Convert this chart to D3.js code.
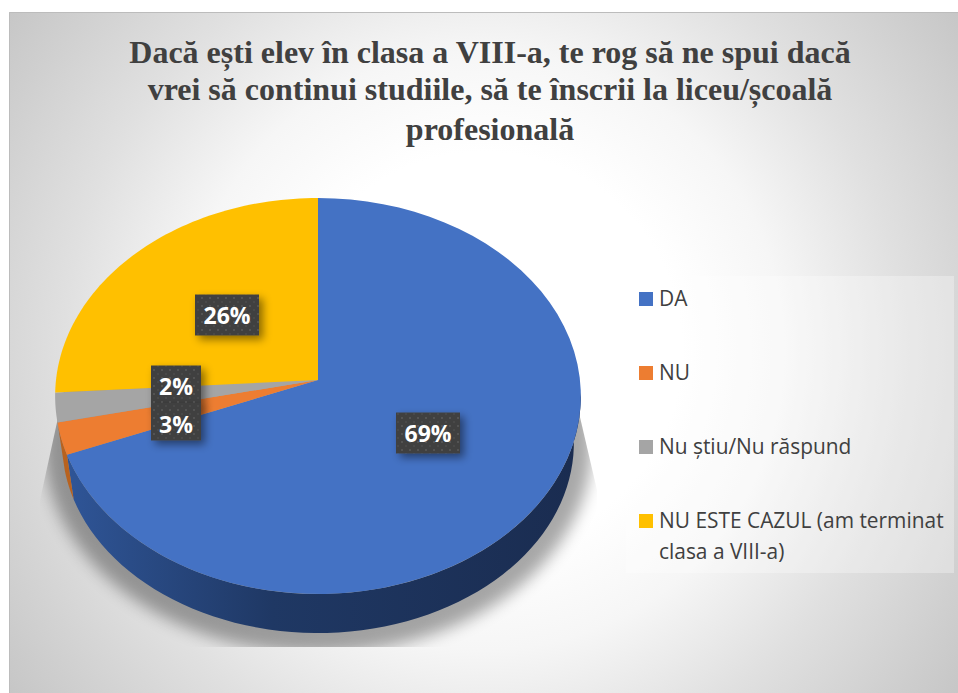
<!DOCTYPE html>
<html><head><meta charset="utf-8">
<script src="https://cdn.jsdelivr.net/npm/d3@7"></script>
<style>html,body{margin:0;padding:0;background:#fff}svg{display:block}</style>
</head><body><div id="c"></div>
<script>
const categories = ["DA","NU","Nu știu/Nu răspund","NU ESTE CAZUL (am terminat|clasa a VIII-a)"];
const values = [69, 2.6, 2.4, 26];
const colors = ["#4472C4","#ED7D31","#A5A5A5","#FFC000"];
const titleLines = ["Dacă ești elev în clasa a VIII-a, te rog să ne spui dacă","vrei să continui studiile, să te înscrii la liceu/școală","profesională"];

const svg = d3.select("#c").append("svg").attr("width",958).attr("height",693);
const defs = svg.append("defs");
const bg = defs.append("radialGradient").attr("id","bg").attr("gradientUnits","userSpaceOnUse")
  .attr("cx",484).attr("cy",350).attr("r",600);
[[0,"#ffffff"],[.33,"#ffffff"],[.5,"#f6f6f6"],[.7,"#e0e0e0"],[.87,"#d0d0d0"],[1,"#c4c4c4"]].forEach(s=>bg.append("stop").attr("offset",s[0]).attr("stop-color",s[1]));
const sideG = defs.append("linearGradient").attr("id","side").attr("gradientUnits","userSpaceOnUse").attr("x1",67).attr("x2",581).attr("y1",0).attr("y2",0);
[[0,"#2f5597"],[.4,"#1f3864"],[1,"#1a2c50"]].forEach(s=>sideG.append("stop").attr("offset",s[0]).attr("stop-color",s[1]));
defs.append("filter").attr("id","blur").attr("x","-20%").attr("y","-20%").attr("width","140%").attr("height","140%")
  .append("feGaussianBlur").attr("stdDeviation",8);
const ds = defs.append("filter").attr("id","ds").attr("x","-30%").attr("y","-30%").attr("width","170%").attr("height","170%");
ds.append("feDropShadow").attr("dx",4).attr("dy",4).attr("stdDeviation",4).attr("flood-color","#000").attr("flood-opacity",.45);
const pat = defs.append("pattern").attr("id","dots").attr("patternUnits","userSpaceOnUse").attr("width",8).attr("height",8);
pat.append("rect").attr("width",8).attr("height",8).attr("fill","#404040");
pat.append("circle").attr("cx",2).attr("cy",2).attr("r",1).attr("fill","#585858");
pat.append("circle").attr("cx",6).attr("cy",6).attr("r",1).attr("fill","#4d4d4d");
defs.append("clipPath").attr("id","sc").append("path")
  .attr("d", d3.line()([[75,340],[40,500],[40,647],[597,647],[597,490],[562,340]])+"Z");

svg.append("rect").attr("x",9).attr("y",12).attr("width",949).attr("height",681).attr("fill","url(#bg)");
svg.append("path").attr("d","M9.5,693V12.5H958").attr("fill","none").attr("stroke","#bcbcbc").attr("stroke-width",1);

// pie geometry
const pie = d3.pie().sort(null).value(d=>d)(values);
const cx=318, cy=380, B=262, A=196.7, k=-0.0808;
const proj = a => { const u=Math.sin(a), v=-Math.cos(a), w=1+k*v; return [cx+B*u/w, cy+A*v/w]; };
const base = p => [cx+(p[0]-cx)*256/263, 443+(p[1]-396)*190/198];
const arcPts = (a0,a1,f) => d3.range(0,65).map(i=>f(a0+(a1-a0)*i/64));
const line = d3.line();

// shadow
svg.append("g").attr("clip-path","url(#sc)").append("ellipse")
  .attr("cx",cx).attr("cy",445).attr("rx",274).attr("ry",208)
  .attr("fill","#000").attr("opacity",.34).attr("filter","url(#blur)");

// sides (front-facing part only)
const rightTangent = Math.PI/2 + 0.06;
const sideFill = [ "url(#side)", "#b8621f" ];
[[rightTangent, pie[0].endAngle, 0],[pie[1].startAngle, pie[1].endAngle-0.01, 1]].forEach(s=>{
  const t = arcPts(s[0],s[1],proj), b = t.map(base).reverse();
  svg.append("path").attr("d", line(t.concat(b))+"Z").attr("fill",sideFill[s[2]]);
});

// top surface
pie.forEach((d,i)=>{
  svg.append("path").attr("d", line([[cx,cy]].concat(arcPts(d.startAngle,d.endAngle,proj)))+"Z")
    .attr("fill",colors[i]);
});

// labels
const pct = d3.format(".0%");
const labelPos = [[428,433,64],[176,424,50],[176,386,50],[227,315,64]];
[3,0,2,1].forEach(idx=>{
  const p = labelPos[idx], g = svg.append("g");
  g.append("rect").attr("x",p[0]-p[2]/2).attr("y",p[1]-20.5).attr("width",p[2]).attr("height",idx==1?37:idx==2?42:41)
    .attr("fill","url(#dots)").attr("filter","url(#ds)");
  g.append("text").attr("x",p[0]).attr("y",p[1]+9).attr("text-anchor","middle")
    .attr("font-family","'Open Sans'").attr("font-weight",700).attr("font-size",23).attr("fill","#fff")
    .text(pct(values[idx]/100));
});

// title
const titleY = [63,100,140];
titleLines.forEach((t,i)=>svg.append("text").attr("x",490).attr("y",titleY[i]).attr("text-anchor","middle")
  .attr("font-family","'Liberation Serif'").attr("font-weight",700).attr("font-size",32).attr("fill","#404040").text(t));

// legend
svg.append("rect").attr("x",626).attr("y",276).attr("width",328).attr("height",297).attr("fill","#fff").attr("opacity",.3);
const ly = [299,373,447,521];
categories.forEach((c,i)=>{
  svg.append("rect").attr("x",639).attr("y",ly[i]-7).attr("width",14).attr("height",14).attr("fill",colors[i]);
  c.split("|").forEach((t,j)=>svg.append("text").attr("x",659).attr("y",ly[i]+7+j*31).attr("font-family","'Open Sans'").attr("font-size",20.9).attr("fill","#404040").text(t));
});
</script></body></html>
